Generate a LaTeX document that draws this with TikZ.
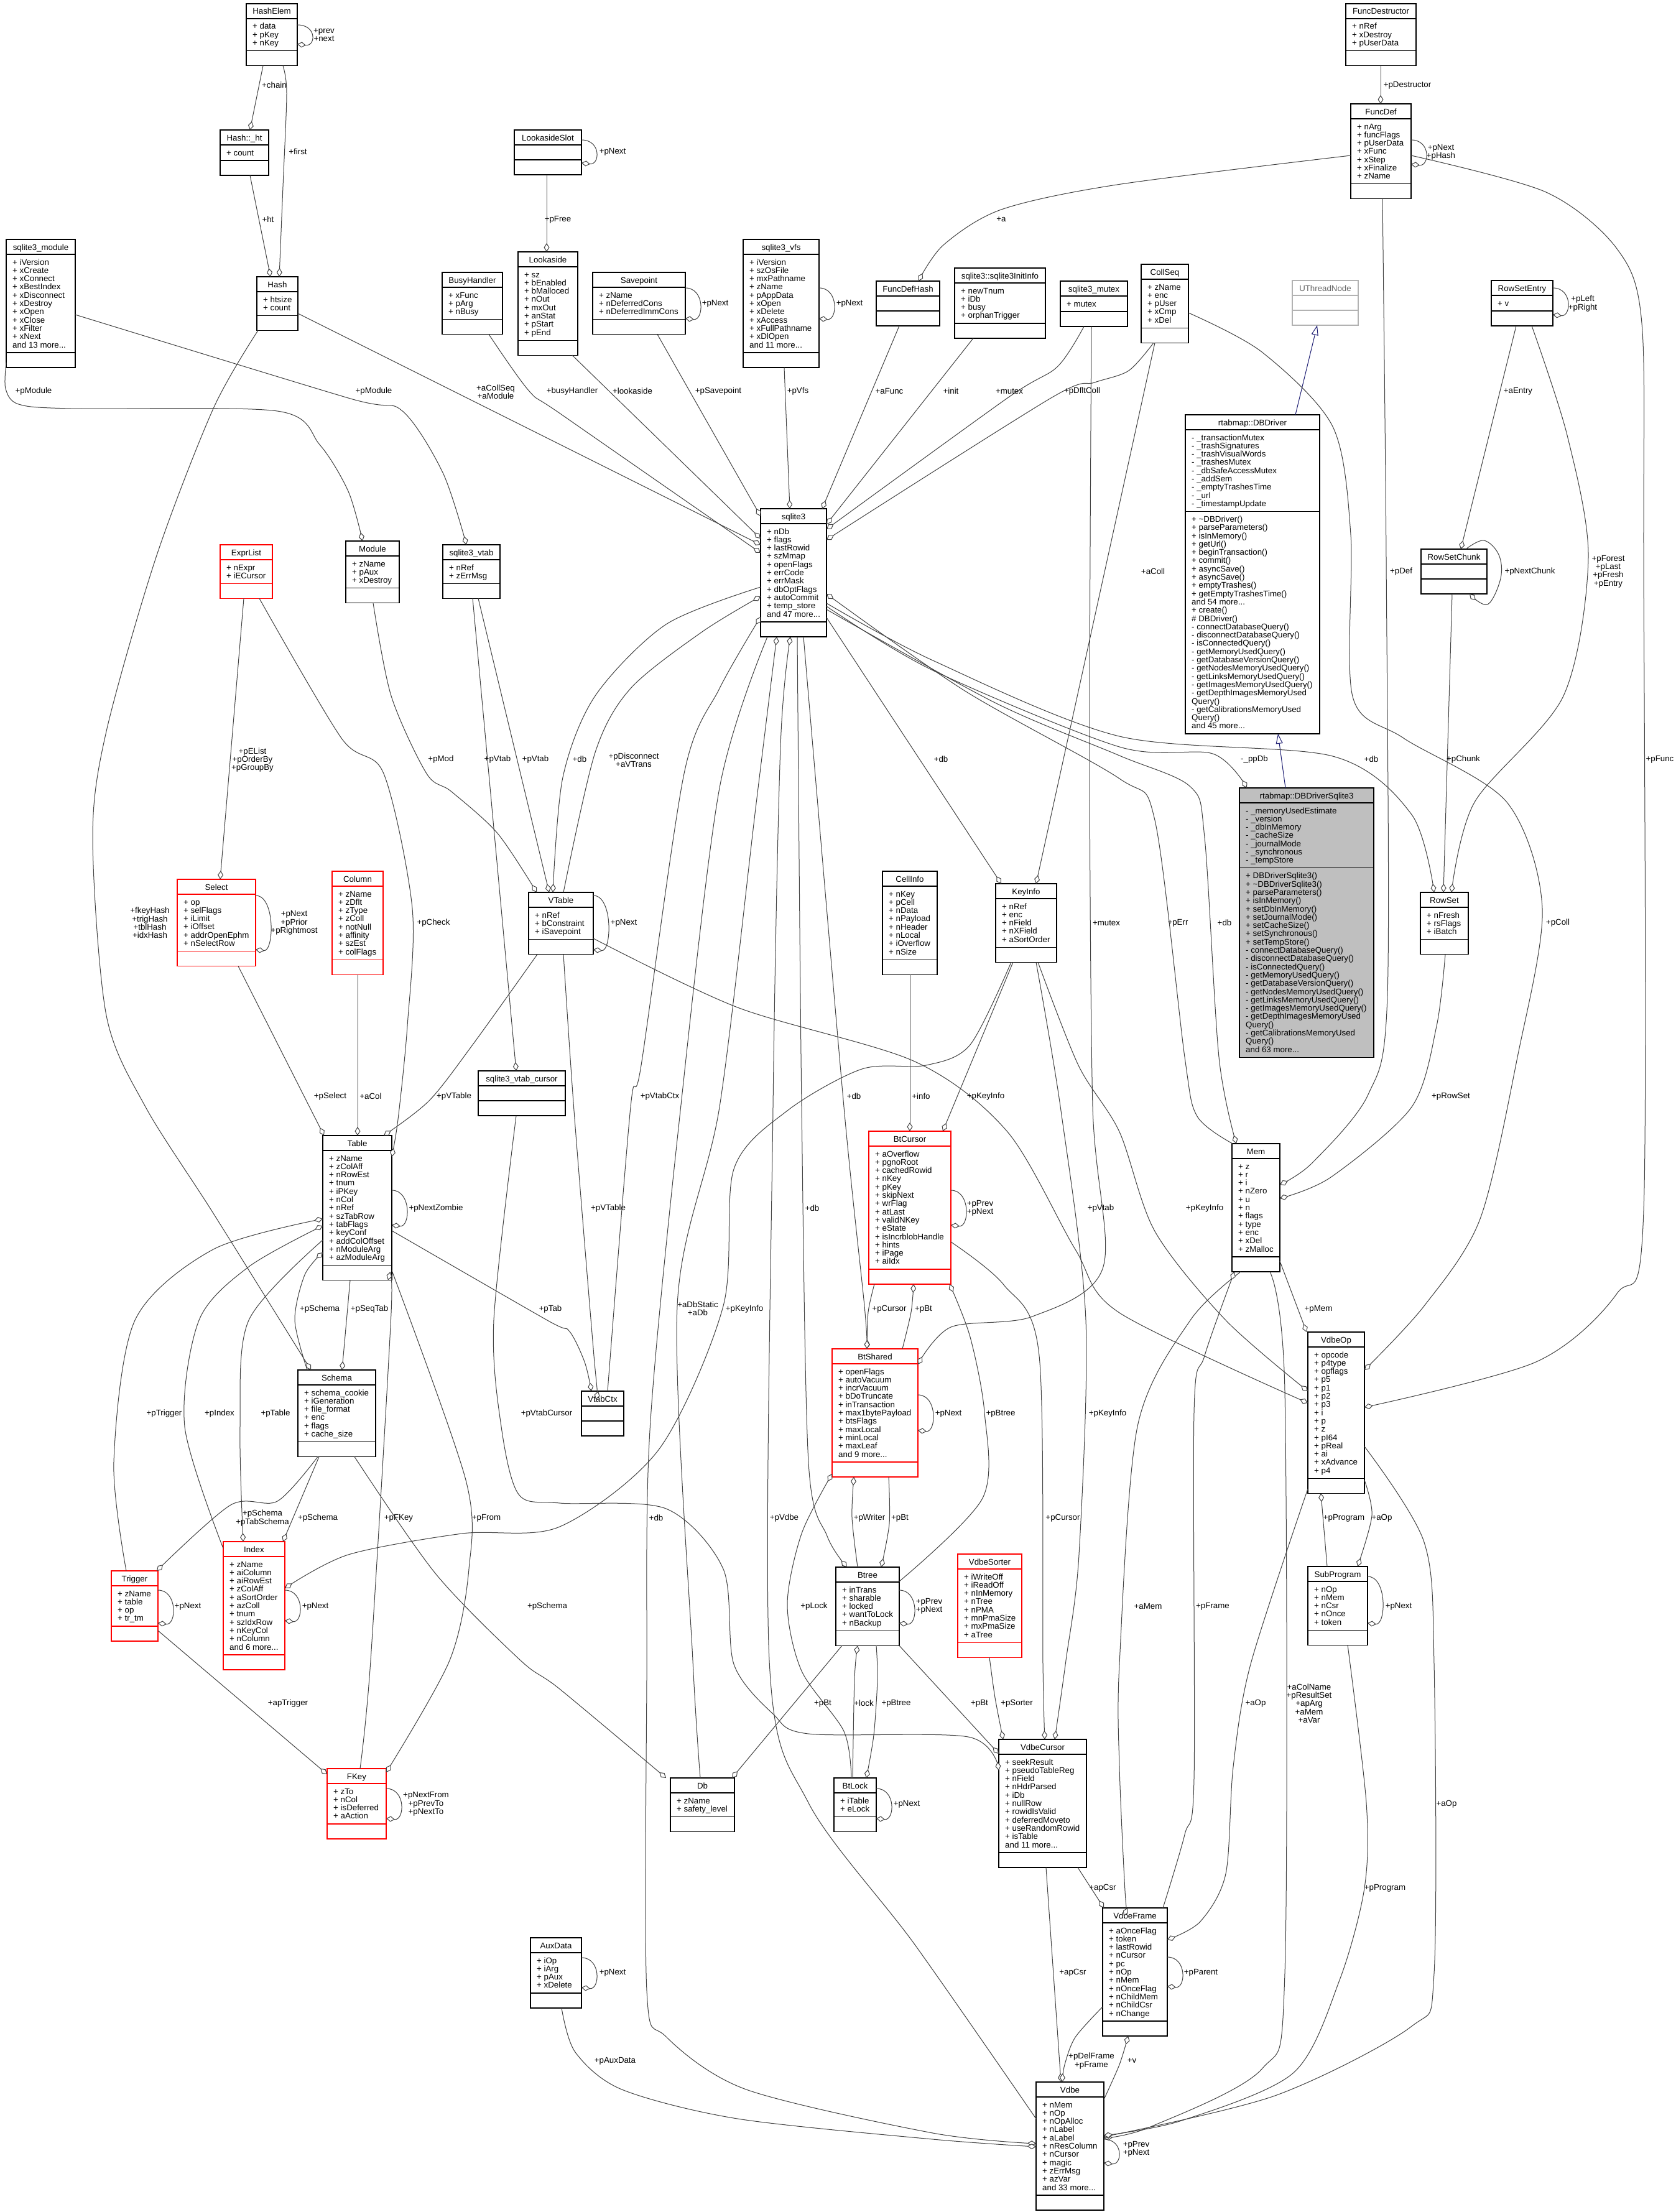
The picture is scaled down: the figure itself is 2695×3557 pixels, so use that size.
\documentclass[tikz,border=0pt]{standalone}
\usepackage{fontspec}
\setmainfont{Liberation Sans}
\usetikzlibrary{arrows.meta}

\definecolor{inhblue}{RGB}{25,25,112}
\newcommand\cfont{\fontsize{13.3}{13.3}\selectfont}
\newcommand\andmore[1]{and #1 more...}

\tikzset{
  cbox/.style={rectangle, draw, line width=1.2pt, inner sep=0pt, outer sep=0pt},
  cline/.style={line width=1.2pt},
  ctitle/.style={anchor=base, inner sep=0pt, font=\cfont},
  ctext/.style={anchor=base west, inner sep=0pt, font=\cfont},
  lbl/.style={align=center, inner sep=0pt, font=\cfont},
  agg/.style={draw=black!75, line width=1pt, -{Diamond[length=14pt,width=9pt,fill=white]}},
  inh/.style={draw=inhblue, line width=1pt, -{Triangle[open,length=16pt,width=11pt]}},
}

% class box defaults
\def\curFill{white}
\def\curText{black}
\def\curM{0}
\def\curMethods{}

% \cls[border]{name}{x1}{y1}{x2}{number of fields}{title}{fields}
\newcommand\cls[8][black]{%
  \pgfmathsetmacro\yA{#4+24}%
  \pgfmathsetmacro\yB{(#6>0) ? (\yA+11.7+13.3*#6) : (\yA+24)}%
  \pgfmathsetmacro\yC{(\curM>0) ? (\yB+11.7+13.3*\curM) : (\yB+24)}%
  \pgfmathsetmacro\cx{(#3+#5)/2}%
  \pgfmathsetmacro\cy{(#4+\yC)/2}%
  \pgfmathsetmacro\bw{#5-#3}%
  \pgfmathsetmacro\bh{\yC-#4}%
  \node[cbox,draw=#1,fill=\curFill,minimum width=\bw pt,minimum height=\bh pt] (#2) at (\cx,\cy) {};%
  \draw[cline,draw=#1] (#3,\yA) -- (#5,\yA) (#3,\yB) -- (#5,\yB);%
  \pgfmathsetmacro\ty{#4+17}%
  \node[ctitle,text=\curText] (#2-title) at (\cx,\ty) {#7};%
  \pgfmathsetmacro\tx{#3+10}%
  \ifnum#6>0\relax
    \foreach \fld [count=\nn] in {#8} {%
      \pgfmathsetmacro\ly{\yA+17+13.3*(\nn-1)}%
      \node[ctext] (#2-f\nn) at (\tx,\ly) {\fld};}%
  \fi
  \ifnum\curM>0\relax
    \foreach \fld [count=\nn] in \curMethods {%
      \pgfmathsetmacro\ly{\yB+17+13.3*(\nn-1)}%
      \node[ctext] (#2-m\nn) at (\tx,\ly) {\fld};}%
  \fi
}
% self reference loop on the right side of a box
\newcommand\selfloop[3]{\draw[agg] (#1.east |- 0,#2) .. controls +(32,0) and +(30,4) .. (#1.east |- 0,#3);}
% edge label
\newcommand\lb[4]{\node[lbl] (#1) at (#2,#3) {#4};}

\begin{document}
\begin{tikzpicture}[x=1pt,y=-1pt]
\fill[white] (0,0) rectangle (2695,3557);
\useasboundingbox (0,0) rectangle (2695,3557);

% ---------------- classes ----------------
\cls{HashElem}{396}{6}{478}{3}{HashElem}{+ data,+ pKey,+ nKey}
\cls{hashht}{354}{209}{432}{1}{Hash::\_ht}{+ count}
\cls{Hash}{413}{445}{479}{2}{Hash}{+ htsize,+ count}
\cls{smodule}{10}{385}{121}{11}{sqlite3\_module}{+ iVersion,+ xCreate,+ xConnect,+ xBestIndex,+ xDisconnect,+ xDestroy,+ xOpen,+ xClose,+ xFilter,+ xNext,\andmore{13}}
\cls{BusyHandler}{711}{438}{808}{3}{BusyHandler}{+ xFunc,+ pArg,+ nBusy}
\cls{LookasideSlot}{827}{209}{935}{0}{LookasideSlot}{}
\cls{Lookaside}{833}{405}{929}{8}{Lookaside}{+ sz,+ bEnabled,+ bMalloced,+ nOut,+ mxOut,+ anStat,+ pStart,+ pEnd}
\cls{Savepoint}{953}{438}{1102}{3}{Savepoint}{+ zName,+ nDeferredCons,+ nDeferredImmCons}
\cls{svfs}{1195}{385}{1317}{11}{sqlite3\_vfs}{+ iVersion,+ szOsFile,+ mxPathname,+ zName,+ pAppData,+ xOpen,+ xDelete,+ xAccess,+ xFullPathname,+ xDlOpen,\andmore{11}}
\cls{FuncDefHash}{1409}{452}{1511}{0}{FuncDefHash}{}
\cls{initinfo}{1535}{431}{1681}{4}{sqlite3::sqlite3InitInfo}{+ newTnum,+ iDb,+ busy,+ orphanTrigger}
\cls{smutex}{1705}{452}{1813}{1}{sqlite3\_mutex}{+ mutex}
\cls{CollSeq}{1835}{425}{1911}{5}{CollSeq}{+ zName,+ enc,+ pUser,+ xCmp,+ xDel}
{\def\curText{black!60}\cls[black!30]{UThreadNode}{2078}{451}{2184}{0}{UThreadNode}{}}
\cls{RowSetEntry}{2398}{451}{2497}{1}{RowSetEntry}{+ v}
\cls{FuncDestructor}{2164}{6}{2277}{3}{FuncDestructor}{+ nRef,+ xDestroy,+ pUserData}
\cls{FuncDef}{2172}{167}{2269}{7}{FuncDef}{+ nArg,+ funcFlags,+ pUserData,+ xFunc,+ xStep,+ xFinalize,+ zName}
{\def\curM{26}%
 \def\curMethods{+ \textasciitilde DBDriver(),+ parseParameters(),+ isInMemory(),+ getUrl(),+ beginTransaction(),+ commit(),+ asyncSave(),+ asyncSave(),+ emptyTrashes(),+ getEmptyTrashesTime(),\andmore{54},+ create(),\# DBDriver(),- connectDatabaseQuery(),- disconnectDatabaseQuery(),- isConnectedQuery(),- getMemoryUsedQuery(),- getDatabaseVersionQuery(),- getNodesMemoryUsedQuery(),- getLinksMemoryUsedQuery(),- getImagesMemoryUsedQuery(),- getDepthImagesMemoryUsed,Query(),- getCalibrationsMemoryUsed,Query(),\andmore{45}}%
 \cls{DBDriver}{1906}{667}{2122}{9}{rtabmap::DBDriver}{- \_transactionMutex,- \_trashSignatures,- \_trashVisualWords,- \_trashesMutex,- \_dbSafeAccessMutex,- \_addSem,- \_emptyTrashesTime,- \_url,- \_timestampUpdate}}
{\def\curM{22}\def\curFill{black!25}%
 \def\curMethods{+ DBDriverSqlite3(),+ \textasciitilde DBDriverSqlite3(),+ parseParameters(),+ isInMemory(),+ setDbInMemory(),+ setJournalMode(),+ setCacheSize(),+ setSynchronous(),+ setTempStore(),- connectDatabaseQuery(),- disconnectDatabaseQuery(),- isConnectedQuery(),- getMemoryUsedQuery(),- getDatabaseVersionQuery(),- getNodesMemoryUsedQuery(),- getLinksMemoryUsedQuery(),- getImagesMemoryUsedQuery(),- getDepthImagesMemoryUsed,Query(),- getCalibrationsMemoryUsed,Query(),\andmore{63}}%
 \cls{DBDriverSqlite3}{1993}{1267}{2209}{7}{rtabmap::DBDriverSqlite3}{- \_memoryUsedEstimate,- \_version,- \_dbInMemory,- \_cacheSize,- \_journalMode,- \_synchronous,- \_tempStore}}
\cls{RowSetChunk}{2285}{883}{2391}{0}{RowSetChunk}{}
\cls{sqlite3}{1223}{818}{1329}{11}{sqlite3}{+ nDb,+ flags,+ lastRowid,+ szMmap,+ openFlags,+ errCode,+ errMask,+ dbOptFlags,+ autoCommit,+ temp\_store,\andmore{47}}
\cls{Module}{556}{870}{642}{3}{Module}{+ zName,+ pAux,+ xDestroy}
\cls{svtab}{712}{876}{804}{2}{sqlite3\_vtab}{+ nRef,+ zErrMsg}
\cls[red]{ExprList}{354}{876}{438}{2}{ExprList}{+ nExpr,+ iECursor}
\cls[red]{Select}{285}{1414}{411}{6}{Select}{+ op,+ selFlags,+ iLimit,+ iOffset,+ addrOpenEphm,+ nSelectRow}
\cls[red]{Column}{534}{1401}{616}{8}{Column}{+ zName,+ zDflt,+ zType,+ zColl,+ notNull,+ affinity,+ szEst,+ colFlags}
\cls{VTable}{850}{1435}{954}{3}{VTable}{+ nRef,+ bConstraint,+ iSavepoint}
\cls{svcur}{769}{1722}{909}{0}{sqlite3\_vtab\_cursor}{}
\cls{CellInfo}{1419}{1401}{1507}{8}{CellInfo}{+ nKey,+ pCell,+ nData,+ nPayload,+ nHeader,+ nLocal,+ iOverflow,+ nSize}
\cls{KeyInfo}{1601}{1421}{1699}{5}{KeyInfo}{+ nRef,+ enc,+ nField,+ nXField,+ aSortOrder}
\cls{RowSet}{2284}{1435}{2361}{3}{RowSet}{+ nFresh,+ rsFlags,+ iBatch}
\cls{Table}{519}{1826}{630}{13}{Table}{+ zName,+ zColAff,+ nRowEst,+ tnum,+ iPKey,+ nCol,+ nRef,+ szTabRow,+ tabFlags,+ keyConf,+ addColOffset,+ nModuleArg,+ azModuleArg}
\cls{Mem}{1981}{1839}{2058}{11}{Mem}{+ z,+ r,+ i,+ nZero,+ u,+ n,+ flags,+ type,+ enc,+ xDel,+ zMalloc}
\cls[red]{BtCursor}{1397}{1819}{1529}{14}{BtCursor}{+ aOverflow,+ pgnoRoot,+ cachedRowid,+ nKey,+ pKey,+ skipNext,+ wrFlag,+ atLast,+ validNKey,+ eState,+ isIncrblobHandle,+ hints,+ iPage,+ aiIdx}
\cls{Schema}{479}{2203}{604}{6}{Schema}{+ schema\_cookie,+ iGeneration,+ file\_format,+ enc,+ flags,+ cache\_size}
\cls{VtabCtx}{935}{2237}{1003}{0}{VtabCtx}{}
\cls[red]{BtShared}{1338}{2169}{1476}{11}{BtShared}{+ openFlags,+ autoVacuum,+ incrVacuum,+ bDoTruncate,+ inTransaction,+ max1bytePayload,+ btsFlags,+ maxLocal,+ minLocal,+ maxLeaf,\andmore{9}}
\cls{VdbeOp}{2103}{2142}{2194}{15}{VdbeOp}{+ opcode,+ p4type,+ opflags,+ p5,+ p1,+ p2,+ p3,+ i,+ p,+ z,+ pI64,+ pReal,+ ai,+ xAdvance,+ p4}
\cls[red]{Trigger}{179}{2526}{254}{4}{Trigger}{+ zName,+ table,+ op,+ tr\_tm}
\cls[red]{Index}{359}{2479}{458}{11}{Index}{+ zName,+ aiColumn,+ aiRowEst,+ zColAff,+ aSortOrder,+ azColl,+ tnum,+ szIdxRow,+ nKeyCol,+ nColumn,\andmore{6}}
\cls[red]{VdbeSorter}{1540}{2499}{1643}{8}{VdbeSorter}{+ iWriteOff,+ iReadOff,+ nInMemory,+ nTree,+ nPMA,+ mnPmaSize,+ mxPmaSize,+ aTree}
\cls{Btree}{1344}{2520}{1446}{5}{Btree}{+ inTrans,+ sharable,+ locked,+ wantToLock,+ nBackup}
\cls{SubProgram}{2103}{2519}{2199}{5}{SubProgram}{+ nOp,+ nMem,+ nCsr,+ nOnce,+ token}
\cls[red]{FKey}{526}{2844}{621}{4}{FKey}{+ zTo,+ nCol,+ isDeferred,+ aAction}
\cls{Db}{1078}{2859}{1181}{2}{Db}{+ zName,+ safety\_level}
\cls{BtLock}{1341}{2859}{1409}{2}{BtLock}{+ iTable,+ eLock}
\cls{VdbeCursor}{1606}{2797}{1747}{11}{VdbeCursor}{+ seekResult,+ pseudoTableReg,+ nField,+ nHdrParsed,+ iDb,+ nullRow,+ rowidIsValid,+ deferredMoveto,+ useRandomRowid,+ isTable,\andmore{11}}
\cls{VdbeFrame}{1773}{3068}{1877}{11}{VdbeFrame}{+ aOnceFlag,+ token,+ lastRowid,+ nCursor,+ pc,+ nOp,+ nMem,+ nOnceFlag,+ nChildMem,+ nChildCsr,+ nChange}
\cls{AuxData}{853}{3116}{935}{4}{AuxData}{+ iOp,+ iArg,+ pAux,+ xDelete}
\cls{Vdbe}{1666}{3348}{1775}{11}{Vdbe}{+ nMem,+ nOp,+ nOpAlloc,+ nLabel,+ aLabel,+ nResColumn,+ nCursor,+ magic,+ zErrMsg,+ azVar,\andmore{33}}

% ---------------- inheritance ----------------
\draw[inh] (DBDriver.north -| 2083,0) -- (UThreadNode.south -| 2118,0);
\draw[inh] (DBDriverSqlite3.north -| 2067,0) -- (DBDriver.south -| 2055,0);

% ---------------- hash tables ----------------
\draw[agg] (HashElem.south -| 423,0) -- (hashht.north -| 402,0);
\draw[agg] plot[smooth,tension=.5] coordinates {(HashElem.south -| 455,0) (461,150) (455,300) (Hash.north -| 449,0)};
\draw[agg] (hashht.south -| 402,0) -- (Hash.north -| 435,0);
\selfloop{HashElem}{40}{71}
\draw[agg] plot[smooth,tension=.5] coordinates {(Hash.south -| 415,0) (343,657) (251,896) (171,1176) (149,1347) (171,1633) (234,1780) (343,1951) (Schema.north -| 500,0)};

% ---------------- virtual tables ----------------
\draw[agg] plot[smooth,tension=.5] coordinates {(smodule.west |- 0,583) (9,625) (30,650) (114,657) (446,661) (514,715) (560,790) (Module.north -| 583,0)};
\draw[agg] plot[smooth,tension=.5] coordinates {(smodule.east |- 0,506) (560,640) (646,660) (712,760) (svtab.north -| 750,0)};
\draw[agg] plot[smooth,tension=.5] coordinates {(Module.south -| 600,0) (629,1119) (686,1244) (726,1273) (800,1340) (VTable.north -| 863,0)};
\draw[agg] (svtab.south -| 769,0) -- (VTable.north -| 883,0);
\draw[agg] (svtab.south -| 760,0) -- (svcur.north -| 830,0);
\selfloop{VTable}{1440}{1527}
\draw[agg] plot[smooth,tension=.5] coordinates {(sqlite3.west |- 0,944) (1071,1004) (957,1119) (905,1250) (VTable.north -| 889,0)};
\draw[agg] plot[smooth,tension=.5] coordinates {(VTable.north -| 906,0) (957,1210) (1014,1107) (1129,1016) (sqlite3.west |- 0,959)};
\draw[agg] plot[smooth,tension=.5] coordinates {(VtabCtx.north -| 977,0) (1014,1780) (1031,1713) (1100,1244) (1157,1107) (sqlite3.west |- 0,992)};
\draw[agg] plot[smooth,tension=.5] coordinates {(VTable.south -| 906,0) (923,1786) (955,2180) (VtabCtx.north -| 962,0)};
\draw[agg] plot[smooth,tension=.5] coordinates {(Table.east |- 0,1979) (880,2123) (915,2140) (940,2190) (VtabCtx.north -| 951,0)};
\draw[agg] plot[smooth,tension=.5] coordinates {(VTable.south -| 864,0) (760,1680) (690,1770) (Table.north -| 617,0)};
\draw[agg] plot[smooth,tension=.5] coordinates {(VTable.east |- 0,1509) (1186,1620) (1471,1707) (1620,1820) (1729,2009) (1800,2111) (VdbeOp.west |- 0,2256)};

% ---------------- sqlite3 members ----------------
\draw[agg] (Hash.east |- 0,504) -- (sqlite3.west |- 0,876);
\draw[agg] plot[smooth,tension=.5] coordinates {(BusyHandler.south -| 786,0) (851,629) (905,668) (sqlite3.west |- 0,889)};
\draw[agg] (Lookaside.south -| 920,0) -- (sqlite3.west |- 0,866);
\draw[agg] (LookasideSlot.south -| 879,0) -- (Lookaside.north -| 879,0);
\selfloop{LookasideSlot}{225}{262}
\selfloop{Savepoint}{463}{512}
\draw[agg] (Savepoint.south -| 1057,0) -- (sqlite3.west |- 0,830);
\selfloop{svfs}{463}{512}
\draw[agg] (svfs.south -| 1261,0) -- (sqlite3.north -| 1270,0);
\draw[agg] (FuncDefHash.south -| 1446,0) -- (sqlite3.north -| 1322,0);
\draw[agg] (initinfo.south -| 1565,0) -- (sqlite3.east |- 0,843);
\draw[agg] plot[smooth,tension=.5] coordinates {(smutex.south -| 1743,0) (1700,590) (1620,640) (sqlite3.east |- 0,851)};
\draw[agg] plot[smooth,tension=.5] coordinates {(CollSeq.south -| 1855,0) (1815,596) (1760,615) (1690,640) (sqlite3.east |- 0,868)};

% ---------------- functions ----------------
\draw[agg] (FuncDestructor.south -| 2220,0) -- (FuncDef.north -| 2220,0);
\selfloop{FuncDef}{225}{264}
\draw[agg] plot[smooth,tension=.5] coordinates {(FuncDef.west |- 0,250) (1796,297) (1610,337) (1517,394) (FuncDefHash.north -| 1477,0)};
\draw[agg] plot[smooth,tension=.5] coordinates {(FuncDef.east |- 0,250) (2486,309) (2600,400) (2640,520) (2643,900) (2643,1946) (2600,2080) (2470,2190) (VdbeOp.east |- 0,2263)};
\draw[agg] plot[smooth,tension=.5] coordinates {(FuncDef.south -| 2223,0) (2229,900) (2231,1600) (2200,1760) (2110,1870) (Mem.east |- 0,1905)};
\draw[agg] plot[smooth,tension=.5] coordinates {(CollSeq.east |- 0,503) (2029,566) (2143,686) (2172,860) (2175,1120) (2257,1187) (2423,1290) (2480,1461) (2440,1700) (2380,1960) (2290,2100) (VdbeOp.east |- 0,2203)};
\draw[agg] (CollSeq.south -| 1857,0) -- (KeyInfo.north -| 1666,0);

% ---------------- row sets ----------------
\selfloop{RowSetEntry}{463}{506}
\draw[agg] (RowSetEntry.south -| 2438,0) -- (RowSetChunk.north -| 2349,0);
\draw[agg] plot[smooth,tension=.5] coordinates {(RowSetEntry.south -| 2463,0) (2520,700) (2554,896) (2514,1119) (2371,1290) (RowSet.north -| 2334,0)};
\draw[agg] (RowSetChunk.south -| 2335,0) -- (RowSet.north -| 2321,0);
\draw[agg] plot[smooth,tension=.6] coordinates {(RowSetChunk.north -| 2357,0) (2386,869) (2410,892) (2413,930) (2392,972) (RowSetChunk.south -| 2363,0)};
\draw[agg] plot[smooth,tension=.5] coordinates {(RowSet.south -| 2324,0) (2310,1650) (2270,1780) (2140,1893) (Mem.east |- 0,1927)};

% ---------------- sqlite3 right side ----------------
\draw[agg] plot[smooth,tension=.5] coordinates {(sqlite3.east |- 0,970) (1500,1062) (1800,1184) (2143,1216) (2270,1310) (RowSet.north -| 2306,0)};
\draw[agg] plot[smooth,tension=.5] coordinates {(sqlite3.east |- 0,975) (1500,1078) (1800,1201) (1950,1212) (DBDriverSqlite3.north -| 2005,0)};
\draw[agg] plot[smooth,tension=.5] coordinates {(sqlite3.east |- 0,980) (1600,1130) (1800,1215) (1914,1265) (1937,1347) (1960,1700) (Mem.north -| 1988,0)};
\draw[agg] plot[smooth,tension=.5] coordinates {(Mem.north -| 1982,0) (1925,1795) (1905,1700) (1857,1319) (1800,1252) (1550,1110) (sqlite3.east |- 0,955)};
\draw[agg] (sqlite3.east |- 0,993) -- (KeyInfo.north -| 1610,0);

% ---------------- expressions / tables ----------------
\draw[agg] (ExprList.south -| 392,0) -- (Select.north -| 354,0);
\draw[agg] plot[smooth,tension=.5] coordinates {(ExprList.south -| 417,0) (549,1187) (617,1244) (663,1461) (655,1650) (640,1800) (Table.east |- 0,1860)};
\selfloop{Select}{1440}{1527}
\draw[agg] (Select.south -| 383,0) -- (Table.north -| 521,0);
\draw[agg] (Column.south -| 575,0) -- (Table.north -| 575,0);
\selfloop{Table}{1914}{1970}
\draw[agg] (Table.south -| 563,0) -- (Schema.north -| 550,0);
\draw[agg] plot[smooth,tension=.5] coordinates {(Schema.north -| 494,0) (474,2123) (490,2050) (Table.west |- 0,2014)};
\draw[agg] plot[smooth,tension=.5] coordinates {(Trigger.north -| 203,0) (183,2351) (217,2123) (343,2009) (Table.west |- 0,1960)};
\draw[agg] plot[smooth,tension=.5] coordinates {(Index.west |- 0,2490) (297,2294) (320,2123) (400,2037) (Table.west |- 0,1971)};
\draw[agg] plot[smooth,tension=.5] coordinates {(Table.west |- 0,1994) (400,2123) (386,2294) (Index.north -| 391,0)};
\draw[agg] plot[smooth,tension=.5] coordinates {(Schema.south -| 511,0) (446,2414) (371,2420) (Trigger.north -| 252,0)};
\draw[agg] (Schema.south -| 513,0) -- (Index.north -| 455,0);
\selfloop{Trigger}{2557}{2610}
\selfloop{Index}{2557}{2606}
\draw[agg] (Trigger.east |- 0,2622) -- (FKey.west |- 0,2853);
\draw[agg] plot[smooth,tension=.5] coordinates {(FKey.north -| 579,0) (596,2670) (629,2111) (Table.south -| 624,0)};
\draw[agg] plot[smooth,tension=.5] coordinates {(Table.east |- 0,2043) (749,2380) (754,2523) (723,2670) (FKey.east |- 0,2850)};
\selfloop{FKey}{2876}{2924}
\draw[agg] plot[smooth,tension=.5] coordinates {(Schema.south -| 570,0) (700,2530) (837,2670) (900,2716) (Db.north -| 1071,0)};
\draw[agg] plot[smooth,tension=.5] coordinates {(KeyInfo.south -| 1626,0) (1560,1680) (1489,1713) (1386,1719) (1266,1786) (1180,1880) (1163,2100) (1060,2330) (900,2455) (743,2466) (560,2500) (Index.east |- 0,2554)};

% ---------------- sqlite3 bottom ----------------
\draw[agg] plot[smooth,tension=.5] coordinates {(sqlite3.south -| 1234,0) (1157,1267) (1094,1786) (1045,2300) (1040,2700) (1040,3201) (1071,3275) (1200,3360) (1500,3430) (Vdbe.west |- 0,3447)};
\draw[agg] plot[smooth,tension=.5] coordinates {(Vdbe.west |- 0,3407) (1471,3127) (1300,2899) (1237,2670) (1243,1780) (1255,1200) (sqlite3.south -| 1271,0)};
\draw[agg] plot[smooth,tension=.5] coordinates {(Db.north -| 1126,0) (1114,2670) (1089,2100) (1157,1780) (1215,1300) (sqlite3.south -| 1249,0)};
\draw[agg] plot[smooth,tension=.5] coordinates {(sqlite3.south -| 1282,0) (1289,1780) (1300,2351) (1330,2470) (Btree.north -| 1362,0)};
\draw[agg] plot[smooth,tension=.5] coordinates {(sqlite3.south -| 1292,0) (1357,1780) (1390,2100) (BtShared.north -| 1394,0)};

% ---------------- b-tree ----------------
\draw[agg] (CellInfo.south -| 1463,0) -- (BtCursor.north -| 1463,0);
\draw[agg] (KeyInfo.south -| 1629,0) -- (BtCursor.north -| 1516,0);
\selfloop{BtCursor}{1914}{1970}
\draw[agg] plot[smooth,tension=.5] coordinates {(BtCursor.south -| 1406,0) (1396,2110) (BtShared.north -| 1394,0)};
\draw[agg] plot[smooth,tension=.5] coordinates {(BtShared.north -| 1451,0) (1465,2110) (BtCursor.south -| 1469,0)};
\selfloop{BtShared}{2243}{2300}
\draw[agg] plot[smooth,tension=.5] coordinates {(Btree.east |- 0,2543) (1580,2409) (1583,2271) (1560,2150) (BtCursor.south -| 1527,0)};
\draw[agg] plot[smooth,tension=.5] coordinates {(BtCursor.east |- 0,1997) (1614,2066) (1671,2180) (1677,2676) (VdbeCursor.north -| 1680,0)};
\draw[agg] plot[smooth,tension=.5] coordinates {(smutex.south -| 1755,0) (1752,1200) (1757,1780) (1774,2037) (1660,2117) (1529,2134) (BtShared.east |- 0,2194)};
\draw[agg] plot[smooth,tension=.5] coordinates {(Btree.north -| 1379,0) (1370,2440) (BtShared.south -| 1373,0)};
\draw[agg] plot[smooth,tension=.5] coordinates {(BtShared.south -| 1429,0) (1430,2450) (Btree.north -| 1417,0)};
\draw[agg] plot[smooth,tension=.5] coordinates {(BtLock.north -| 1369,0) (1357,2784) (1289,2687) (1266,2580) (1289,2466) (BtShared.west |- 0,2370)};
\selfloop{Btree}{2557}{2610}
\draw[agg] plot[smooth,tension=.5] coordinates {(Btree.south -| 1409,0) (1411,2700) (1405,2790) (BtLock.north -| 1393,0)};
\draw[agg] plot[smooth,tension=.5] coordinates {(BtLock.north -| 1371,0) (1374,2700) (Btree.south -| 1379,0)};
\selfloop{BtLock}{2876}{2924}
\draw[agg] (Btree.south -| 1354,0) -- (Db.north -| 1177,0);
\draw[agg] (Btree.south -| 1446,0) -- (VdbeCursor.west |- 0,2820);
\draw[agg] plot[smooth,tension=.5] coordinates {(VdbeSorter.south -| 1591,0) (1600,2730) (VdbeCursor.north -| 1613,0)};
\draw[agg] plot[smooth,tension=.5] coordinates {(KeyInfo.south -| 1666,0) (1706,1786) (1746,2123) (1735,2500) (1714,2670) (VdbeCursor.north -| 1696,0)};
\draw[agg] plot[smooth,tension=.5] coordinates {(svcur.south -| 830,0) (794,2123) (806,2294) (834,2403) (900,2417) (1071,2426) (1163,2523) (1180,2676) (1243,2756) (1300,2788) (1557,2793) (VdbeCursor.west |- 0,2847)};

% ---------------- virtual machine ----------------
\draw[agg] plot[smooth,tension=.5] coordinates {(KeyInfo.south -| 1669,0) (1734,1713) (1800,1820) (1857,1980) (1971,2123) (VdbeOp.west |- 0,2237)};
\draw[agg] (Mem.east |- 0,2028) -- (VdbeOp.north -| 2101,0);
\draw[agg] plot[smooth,tension=.5] coordinates {(Mem.south -| 1995,0) (1914,2123) (1829,2294) (1800,2676) (1800,2841) (1809,3041) (VdbeFrame.north -| 1813,0)};
\draw[agg] plot[smooth,tension=.5] coordinates {(VdbeFrame.north -| 1870,0) (1905,2950) (1920,2860) (1920,2271) (1937,2180) (Mem.south -| 1985,0)};
\draw[agg] plot[smooth,tension=.5] coordinates {(Mem.south -| 2042,0) (2066,2237) (2066,3173) (2029,3327) (1850,3420) (Vdbe.east |- 0,3438)};
\draw[agg] plot[smooth,tension=.5] coordinates {(VdbeOp.west |- 0,2394) (2011,2676) (1983,2841) (1971,3013) (1930,3090) (VdbeFrame.east |- 0,3119)};
\draw[agg] plot[smooth,tension=.5] coordinates {(VdbeOp.east |- 0,2326) (2290,2480) (2306,2676) (2306,3173) (2269,3259) (2050,3370) (Vdbe.east |- 0,3436)};
\draw[agg] plot[smooth,tension=.5] coordinates {(SubProgram.south -| 2167,0) (2197,2899) (2194,3036) (2154,3184) (2080,3333) (1900,3410) (Vdbe.east |- 0,3434)};
\draw[agg] (SubProgram.north -| 2134,0) -- (VdbeOp.south -| 2124,0);
\draw[agg] plot[smooth,tension=.5] coordinates {(VdbeOp.east |- 0,2380) (2206,2437) (SubProgram.north -| 2183,0)};
\selfloop{SubProgram}{2535}{2610}
\selfloop{Vdbe}{3440}{3478}
\selfloop{VdbeFrame}{3147}{3194}
\draw[agg] (VdbeCursor.south -| 1733,0) -- (VdbeFrame.north -| 1775,0);
\draw[agg] (VdbeCursor.south -| 1682,0) -- (Vdbe.north -| 1706,0);
\draw[agg] plot[smooth,tension=.5] coordinates {(VdbeFrame.west |- 0,3227) (1729,3276) (1712,3320) (Vdbe.north -| 1708,0)};
\draw[agg] plot[smooth,tension=.5] coordinates {(Vdbe.east |- 0,3376) (1800,3320) (VdbeFrame.south -| 1814,0)};
\draw[agg] plot[smooth,tension=.5] coordinates {(AuxData.south -| 903,0) (925,3300) (1000,3360) (1186,3407) (1500,3440) (Vdbe.west |- 0,3452)};
\selfloop{AuxData}{3148}{3196}

% ---------------- edge labels ----------------
\lb{lchain}{441}{137}{+chain}
\lb{lfirst}{479}{244}{+first}
\lb{lht}{431}{353}{+ht}
\lb{lhprev}{521}{56}{+prev\\+next}
\lb{lpmod1}{54}{629}{+pModule}
\lb{lpmod2}{601}{629}{+pModule}
\lb{lacoll}{797}{630}{+aCollSeq\\+aModule}
\lb{lbusy}{920}{629}{+busyHandler}
\lb{llook}{1017}{629}{+lookaside}
\lb{lfree}{897}{353}{+pFree}
\lb{llsnext}{985}{244}{+pNext}
\lb{lsave}{1155}{629}{+pSavepoint}
\lb{lspnext}{1150}{488}{+pNext}
\lb{lvfs}{1283}{629}{+pVfs}
\lb{lvfsnext}{1366}{488}{+pNext}
\lb{lafunc}{1430}{629}{+aFunc}
\lb{linit}{1529}{629}{+init}
\lb{lmutex}{1623}{629}{+mutex}
\lb{ldflt}{1740}{629}{+pDfltColl}
\lb{la}{1610}{353}{+a}
\lb{ldestr}{2263}{137}{+pDestructor}
\lb{lfdnext}{2317}{245}{+pNext\\+pHash}
\lb{lrse}{2545}{488}{+pLeft\\+pRight}
\lb{laentry}{2441}{629}{+aEntry}
\lb{lacollk}{1854}{919}{+aColl}
\lb{lpdef}{2253}{919}{+pDef}
\lb{lnchunk}{2460}{919}{+pNextChunk}
\lb{lforest}{2586}{919}{+pForest\\+pLast\\+pFresh\\+pEntry}
\lb{lppdb}{2017}{1221}{-\_ppDb}
\lb{ldbrs}{2205}{1221}{+db}
\lb{lchunk}{2353}{1221}{+pChunk}
\lb{lpfunc}{2669}{1221}{+pFunc}
\lb{lperr}{1894}{1484}{+pErr}
\lb{ldbmem}{1969}{1484}{+db}
\lb{lpcoll}{2505}{1484}{+pColl}
\lb{lmutex2}{1779}{1484}{+mutex}
\lb{lrowset}{2333}{1763}{+pRowSet}
\lb{ldbvt}{932}{1221}{+db}
\lb{ldisc}{1019}{1222}{+pDisconnect\\+aVTrans}
\lb{ldbki}{1513}{1221}{+db}
\lb{lvtnext}{1003}{1484}{+pNext}
\lb{lelist}{406}{1222}{+pEList\\+pOrderBy\\+pGroupBy}
\lb{lfkh}{241}{1484}{+fkeyHash\\+trigHash\\+tblHash\\+idxHash}
\lb{lselnext}{473}{1484}{+pNext\\+pPrior\\+pRightmost}
\lb{lcheck}{697}{1484}{+pCheck}
\lb{lpmodv}{709}{1221}{+pMod}
\lb{lpvtab1}{800}{1221}{+pVtab}
\lb{lpvtab2}{861}{1221}{+pVtab}
\lb{lpsel}{531}{1763}{+pSelect}
\lb{lacol}{596}{1763}{+aCol}
\lb{lpvtable}{730}{1763}{+pVTable}
\lb{lvtabctx}{1061}{1763}{+pVtabCtx}
\lb{ldbbs}{1373}{1763}{+db}
\lb{linfo}{1481}{1763}{+info}
\lb{lkibc}{1585}{1763}{+pKeyInfo}
\lb{lzomb}{701}{1943}{+pNextZombie}
\lb{lpvtable2}{978}{1943}{+pVTable}
\lb{ldbbt}{1306}{1943}{+db}
\lb{lbcnext}{1576}{1943}{+pPrev\\+pNext}
\lb{lpvtabop}{1770}{1943}{+pVtab}
\lb{lkiop}{1937}{1943}{+pKeyInfo}
\lb{lschtab}{514}{2105}{+pSchema}
\lb{lseqtab}{594}{2105}{+pSeqTab}
\lb{lptab}{885}{2105}{+pTab}
\lb{ladb}{1122}{2104}{+aDbStatic\\+aDb}
\lb{lkiidx}{1197}{2105}{+pKeyInfo}
\lb{lpcur}{1430}{2105}{+pCursor}
\lb{lpbt1}{1485}{2105}{+pBt}
\lb{lpmem}{2120}{2105}{+pMem}
\lb{ltrig}{264}{2273}{+pTrigger}
\lb{lidx}{353}{2273}{+pIndex}
\lb{lptable}{443}{2273}{+pTable}
\lb{lvcur}{879}{2273}{+pVtabCursor}
\lb{lbsnext}{1525}{2273}{+pNext}
\lb{lpbtree}{1609}{2273}{+pBtree}
\lb{lkivc}{1781}{2273}{+pKeyInfo}
\lb{ltabsch}{422}{2441}{+pSchema\\+pTabSchema}
\lb{lschidx}{511}{2441}{+pSchema}
\lb{lfkey}{641}{2441}{+pFKey}
\lb{lfrom}{782}{2441}{+pFrom}
\lb{ldbv}{1055}{2441}{+db}
\lb{lpvdbe}{1261}{2441}{+pVdbe}
\lb{lwriter}{1398}{2441}{+pWriter}
\lb{lpbt2}{1447}{2441}{+pBt}
\lb{lpcur2}{1709}{2441}{+pCursor}
\lb{lprog1}{2161}{2441}{+pProgram}
\lb{laop1}{2222}{2441}{+aOp}
\lb{ltrnext}{302}{2583}{+pNext}
\lb{lixnext}{507}{2583}{+pNext}
\lb{lschdb}{880}{2583}{+pSchema}
\lb{lplock}{1309}{2583}{+pLock}
\lb{lbtnext}{1494}{2583}{+pPrev\\+pNext}
\lb{lamem}{1846}{2583}{+aMem}
\lb{lpframe}{1950}{2583}{+pFrame}
\lb{lspnext2}{2249}{2583}{+pNext}
\lb{laptrig}{463}{2739}{+apTrigger}
\lb{lpbt3}{1323}{2739}{+pBt}
\lb{llock}{1389}{2739}{+lock}
\lb{lpbtree2}{1441}{2739}{+pBtree}
\lb{lpbt4}{1575}{2739}{+pBt}
\lb{lsorter}{1635}{2739}{+pSorter}
\lb{laop2}{2019}{2739}{+aOp}
\lb{lacol2}{2105}{2739}{+aColName\\+pResultSet\\+apArg\\+aMem\\+aVar}
\lb{lfknext}{685}{2901}{+pNextFrom\\+pPrevTo\\+pNextTo}
\lb{lblnext}{1458}{2901}{+pNext}
\lb{laop3}{2326}{2901}{+aOp}
\lb{lapcsr1}{1773}{3036}{+apCsr}
\lb{lprog2}{2227}{3036}{+pProgram}
\lb{ladnext}{985}{3172}{+pNext}
\lb{lapcsr2}{1725}{3172}{+apCsr}
\lb{lparent}{1931}{3172}{+pParent}
\lb{laux}{989}{3314}{+pAuxData}
\lb{ldelf}{1755}{3314}{+pDelFrame\\+pFrame}
\lb{lv}{1820}{3314}{+v}
\lb{lvdnext}{1827}{3456}{+pPrev\\+pNext}
\end{tikzpicture}
\end{document}
